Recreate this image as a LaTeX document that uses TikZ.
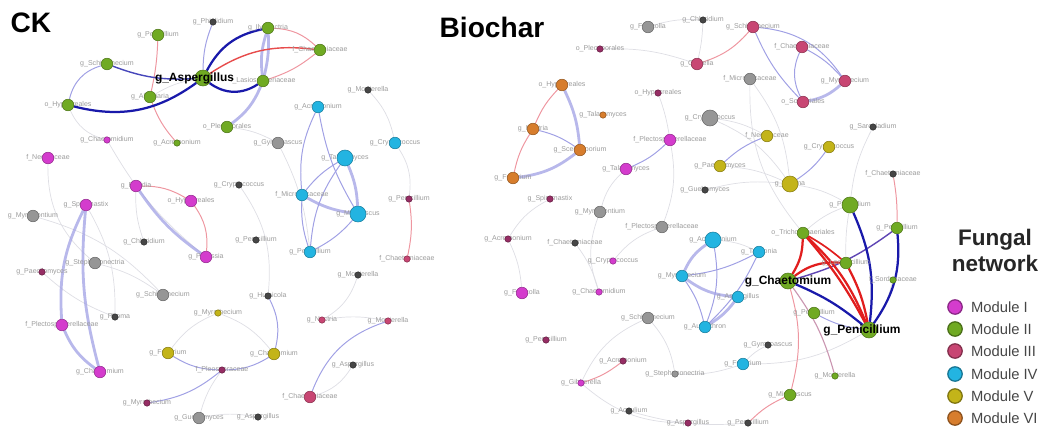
\documentclass[tikz,border=0pt]{standalone}
\usepackage{fontspec}
\setmainfont{Liberation Sans}
\usetikzlibrary{positioning}
\pgfdeclarelayer{background}
\pgfsetlayers{background,main}

\definecolor{modI}{RGB}{212,60,205}
\definecolor{modII}{RGB}{112,170,35}
\definecolor{modIII}{RGB}{200,70,115}
\definecolor{modIV}{RGB}{35,180,225}
\definecolor{modV}{RGB}{195,180,25}
\definecolor{modVI}{RGB}{215,125,45}
\definecolor{other}{RGB}{150,150,150}
\definecolor{darkdot}{RGB}{70,70,70}
\definecolor{wine}{RGB}{150,45,100}
\definecolor{edgeblue}{RGB}{160,160,228}
\definecolor{edgered}{RGB}{238,150,160}
\definecolor{edgegray}{RGB}{222,222,228}
\definecolor{strongblue}{RGB}{25,25,170}
\definecolor{strongred}{RGB}{225,30,30}
\definecolor{midpurple}{RGB}{95,70,180}
\definecolor{lblgray}{RGB}{155,155,155}
\definecolor{legtext}{RGB}{70,70,70}

\begin{document}
\begin{tikzpicture}[x=0.025cm,y=-0.025cm]

\useasboundingbox (0,0) rectangle (1043,434);

\tikzstyle{lbl}=[font=\fontsize{5}{6}\selectfont,text=lblgray,inner sep=0pt]
\tikzstyle{boldlbl}=[font=\fontsize{8.5}{10}\selectfont\bfseries,inner sep=0pt]
\tikzstyle{title}=[font=\fontsize{20}{24}\selectfont\bfseries,inner sep=0pt]
\tikzstyle{otudot}=[circle,inner sep=0pt,line width=0.4pt]
\tikzstyle{bigdot}=[minimum size=0.4cm]
\tikzstyle{middot}=[minimum size=0.29cm]
\tikzstyle{smalldot}=[minimum size=0.16cm]
\tikzstyle{posedge}=[edgeblue,line width=0.7pt]
\tikzstyle{posthick}=[edgeblue,line width=2pt,opacity=0.75]
\tikzstyle{negedge}=[edgered,line width=0.7pt]
\tikzstyle{faintedge}=[edgegray,line width=0.5pt]
\tikzstyle{posstrong}=[strongblue,line width=1.6pt]
\tikzstyle{negstrong}=[strongred,line width=1.6pt]
\tikzstyle{legdot}=[otudot,minimum size=0.36cm,line width=0.9pt]
\tikzstyle{legtxt}=[font=\fontsize{10.5}{12}\selectfont,text=legtext,inner sep=0pt]

\def\otu#1#2#3#4#5{\node[lbl] (#1l) at (#2) {#5};
  \node[otudot,#3,fill=#4,draw=#4!70!black] (#1) at (#2) {};}

%titles
\node[title] (cktitle) at (31,23) {CK};
\node[title] (bctitle) at (492,27) {Biochar};

%CK
\otu{ckphi}{213,22}{smalldot}{darkdot}{g\_Phialidium}
\otu{cklin}{268,28}{middot}{modII}{g\_Ilyonectria}
\otu{ckpen}{158,35}{middot}{modII}{g\_Penicillium}
\otu{ckchae}{320,50}{middot}{modII}{f\_Chaetomiaceae}
\otu{ckschi}{107,64}{middot}{modII}{g\_Schizothecium}
\otu{ckasp}{203,78}{bigdot}{modII}{}
\otu{cklas}{263,81}{middot}{modII}{f\_Lasiosphaeriaceae}
\otu{ckalt}{150,97}{middot}{modII}{g\_Alternaria}
\otu{ckhyp}{68,105}{middot}{modII}{o\_Hypocreales}
\otu{ckmor}{368,90}{smalldot}{darkdot}{g\_Mortierella}
\otu{ckacr}{318,107}{middot}{modIV}{g\_Acremonium}
\otu{ckple}{227,127}{middot}{modII}{o\_Pleosporales}
\otu{ckctd}{107,140}{smalldot}{modI}{g\_Chaetomidium}
\otu{ckacr2}{177,143}{smalldot}{modII}{g\_Acremonium}
\otu{ckgym}{278,143}{middot}{other}{g\_Gymnoascus}
\otu{ckcry}{395,143}{middot}{modIV}{g\_Cryptococcus}
\otu{cknec}{48,158}{middot}{modI}{f\_Nectriaceae}
\otu{cktal}{345,158}{bigdot}{modIV}{g\_Talaromyces}
\otu{ckfus}{136,186}{middot}{modI}{g\_Fusidia}
\otu{ckcry2}{239,185}{smalldot}{darkdot}{g\_Cryptococcus}
\otu{ckmic}{302,195}{middot}{modIV}{f\_Microascaceae}
\otu{ckpen2}{409,199}{smalldot}{wine}{g\_Penicillium}
\otu{ckhyp2}{191,201}{middot}{modI}{o\_Hypocreales}
\otu{ckspi}{86,205}{middot}{modI}{g\_Spiromastix}
\otu{ckmicr}{358,214}{bigdot}{modIV}{g\_Microascus}
\otu{ckmyr}{33,216}{middot}{other}{g\_Myriodontium}
\otu{ckpen3}{256,240}{smalldot}{darkdot}{g\_Penicillium}
\otu{ckchl}{144,242}{smalldot}{darkdot}{g\_Chloridium}
\otu{ckpen4}{310,252}{middot}{modIV}{g\_Penicillium}
\otu{ckpre}{206,257}{middot}{modI}{g\_Preussia}
\otu{ckchae2}{407,259}{smalldot}{modIII}{f\_Chaetomiaceae}
\otu{ckste}{95,263}{middot}{other}{g\_Stephanonectria}
\otu{ckpae}{42,272}{smalldot}{wine}{g\_Paecilomyces}
\otu{ckmor2}{358,275}{smalldot}{darkdot}{g\_Mortierella}
\otu{cksch2}{163,295}{middot}{other}{g\_Schizothecium}
\otu{ckhum}{268,296}{smalldot}{darkdot}{g\_Humicola}
\otu{ckmyr2}{218,313}{smalldot}{modV}{g\_Myrothecium}
\otu{ckpho}{115,317}{smalldot}{darkdot}{g\_Phoma}
\otu{ckplec}{62,325}{middot}{modI}{f\_Plectosphaerellaceae}
\otu{cknect}{322,320}{smalldot}{modIII}{g\_Nectria}
\otu{ckmor3}{388,321}{smalldot}{modIII}{g\_Mortierella}
\otu{ckfusa}{168,353}{middot}{modV}{g\_Fusarium}
\otu{ckcha}{274,354}{middot}{modV}{g\_Chaetomium}
\otu{ckasp2}{353,365}{smalldot}{darkdot}{g\_Aspergillus}
\otu{ckpleo}{222,370}{smalldot}{wine}{f\_Pleosporaceae}
\otu{ckcham}{100,372}{middot}{modI}{g\_Chaetomium}
\otu{ckchae3}{310,397}{middot}{modIII}{f\_Chaetomiaceae}
\otu{ckmyr3}{147,403}{smalldot}{wine}{g\_Myrothecium}
\otu{ckgue}{199,418}{middot}{other}{g\_Guehomyces}
\otu{ckasp3}{258,417}{smalldot}{darkdot}{g\_Aspergillus}
\node[boldlbl] (ckaspl) at ([xshift=-6]ckasp) {g\_Aspergillus};

%Biochar
\otu{bfusi}{648,27}{middot}{other}{g\_Fusicolla}
\otu{bchl}{703,20}{smalldot}{darkdot}{g\_Chloridium}
\otu{bschi}{753,27}{middot}{modIII}{g\_Schizothecium}
\otu{bple}{600,49}{smalldot}{wine}{o\_Pleosporales}
\otu{bchae}{802,47}{middot}{modIII}{f\_Chaetomiaceae}
\otu{bcon}{697,64}{middot}{modIII}{g\_Coniella}
\otu{bmic}{750,79}{middot}{other}{f\_Microascaceae}
\otu{bmyr}{845,81}{middot}{modIII}{g\_Myrothecium}
\otu{bsor}{803,102}{middot}{modIII}{o\_Sordariales}
\otu{bhyp}{562,85}{middot}{modVI}{o\_Hypocreales}
\otu{bhyp2}{658,93}{smalldot}{wine}{o\_Hypocreales}
\otu{btal}{603,115}{smalldot}{modVI}{g\_Talaromyces}
\otu{bcry}{710,118}{bigdot}{other}{g\_Cryptococcus}
\otu{bnec}{533,129}{middot}{modVI}{g\_Nectria}
\otu{bplec}{670,140}{middot}{modI}{f\_Plectosphaerellaceae}
\otu{bnecf}{767,136}{middot}{modV}{f\_Nectriaceae}
\otu{bsar}{873,127}{smalldot}{darkdot}{g\_Sarocladium}
\otu{bcry2}{829,147}{middot}{modV}{g\_Cryptococcus}
\otu{bsce}{580,150}{middot}{modVI}{g\_Scedosporium}
\otu{bfus}{513,178}{middot}{modVI}{g\_Fusarium}
\otu{btal2}{626,169}{middot}{modI}{g\_Talaromyces}
\otu{bpae}{720,166}{middot}{modV}{g\_Paecilomyces}
\otu{bchae2}{893,174}{smalldot}{darkdot}{f\_Chaetomiaceae}
\otu{bpho}{790,184}{bigdot}{modV}{g\_Phoma}
\otu{bgue}{705,190}{smalldot}{darkdot}{g\_Guehomyces}
\otu{bspi}{550,199}{smalldot}{wine}{g\_Spiromastix}
\otu{bpen}{850,205}{bigdot}{modII}{g\_Penicillium}
\otu{bmyrd}{600,212}{middot}{other}{g\_Myriodontium}
\otu{bplec2}{662,227}{middot}{other}{f\_Plectosphaerellaceae}
\otu{bpen2}{897,228}{middot}{modII}{g\_Penicillium}
\otu{btri}{803,233}{middot}{modII}{o\_Trichosphaeriales}
\otu{bacr}{508,239}{smalldot}{wine}{g\_Acremonium}
\otu{bchae3}{575,243}{smalldot}{darkdot}{f\_Chaetomiaceae}
\otu{bacrc}{713,240}{bigdot}{modIV}{g\_Acremonium}
\otu{btau}{759,252}{middot}{modIV}{g\_Tausonia}
\otu{bcrym}{613,261}{smalldot}{modI}{g\_Cryptococcus}
\otu{blec}{846,263}{middot}{modII}{g\_Lecanicillium}
\otu{bmyrc}{682,276}{middot}{modIV}{g\_Myrothecium}
\otu{bcha}{788,281}{bigdot}{modII}{}
\otu{bsord}{893,280}{smalldot}{modII}{f\_Sordariaceae}
\otu{bfusc}{522,293}{middot}{modI}{g\_Fusicolla}
\otu{bctd}{599,292}{smalldot}{modI}{g\_Chaetomidium}
\otu{baspc}{738,297}{middot}{modIV}{g\_Aspergillus}
\otu{bpen3}{814,313}{middot}{modII}{g\_Penicillium}
\otu{bschg}{648,318}{middot}{other}{g\_Schizothecium}
\otu{baux}{705,327}{middot}{modIV}{g\_Auxarthron}
\otu{bpenb}{869,330}{bigdot}{modII}{}
\otu{bpenm}{546,340}{smalldot}{wine}{g\_Penicillium}
\otu{bgym}{768,345}{smalldot}{darkdot}{g\_Gymnoascus}
\otu{bacrm}{623,361}{smalldot}{wine}{g\_Acremonium}
\otu{bfuscy}{743,364}{middot}{modIV}{g\_Fusarium}
\otu{bste}{675,374}{smalldot}{other}{g\_Stephanonectria}
\otu{bmor}{835,376}{smalldot}{modII}{g\_Mortierella}
\otu{bgib}{581,383}{smalldot}{modI}{g\_Gibberella}
\otu{bmicg}{790,395}{middot}{modII}{g\_Microascus}
\otu{bacau}{629,411}{smalldot}{darkdot}{g\_Acaulium}
\otu{baspm}{688,423}{smalldot}{wine}{g\_Aspergillus}
\otu{bpend}{748,423}{smalldot}{darkdot}{g\_Penicillium}
\node[boldlbl] (bchal) at (bcha) {g\_Chaetomium};
\node[boldlbl] (bpenbl) at ([xshift=-5]bpenb) {g\_Penicillium};

%legend
\node[font=\fontsize{16}{18.5}\selectfont\bfseries,align=center,text=black!85] (legend) at (995,250) {Fungal\\network};
\node[legdot,fill=modI,draw=modI!65!black] (leg1) at (955,307) {};
\node[legdot,fill=modII,draw=modII!65!black] (leg2) at (955,329) {};
\node[legdot,fill=modIII,draw=modIII!65!black] (leg3) at (955,351) {};
\node[legdot,fill=modIV,draw=modIV!65!black] (leg4) at (955,374) {};
\node[legdot,fill=modV,draw=modV!65!black] (leg5) at (955,396) {};
\node[legdot,fill=modVI,draw=modVI!65!black] (leg6) at (955,418) {};
\node[legtxt,right=0.2cm of leg1] (leg1t) {Module I};
\node[legtxt,right=0.2cm of leg2] (leg2t) {Module II};
\node[legtxt,right=0.2cm of leg3] (leg3t) {Module III};
\node[legtxt,right=0.2cm of leg4] (leg4t) {Module IV};
\node[legtxt,right=0.2cm of leg5] (leg5t) {Module V};
\node[legtxt,right=0.2cm of leg6] (leg6t) {Module VI};

%connections
\begin{pgfonlayer}{background}
% CK, faint
\draw[faintedge] (cknec) to[bend right=25] (ckste);
\draw[faintedge] (ckctd) to[bend right=10] (ckpre);
\draw[faintedge] (ckmyr) to[bend left=15] (cksch2);
\draw[faintedge] (ckste) to[bend left=10] (cksch2);
\draw[faintedge] (ckpae) to[bend right=10] (ckpho);
\draw[faintedge] (ckgym) to[bend left=10] (ckpen4);
\draw[faintedge] (ckcry2) to[bend left=20] (ckhum);
\draw[faintedge] (ckple) to[bend left=10] (ckgym);
\draw[faintedge] (ckmor) to[bend left=15] (ckcry);
\draw[faintedge] (ckcry) to[bend left=20] (ckpen2);
\draw[faintedge] (ckmor2) to[bend left=20] (cknect);
\draw[faintedge] (cknect) to[bend left=10] (ckmor3);
\draw[faintedge] (ckasp2) to[bend left=20] (ckchae3);
\draw[faintedge] (ckfusa) to[bend left=15] (ckmyr2);
\draw[faintedge] (ckmyr2) to[bend left=15] (ckcha);
\draw[faintedge] (ckpleo) to[bend right=10] (ckgue);
\draw[faintedge] (ckgue) to[bend left=10] (ckasp3);
\draw[faintedge] (ckspi) to[bend left=15] (ckpho);
\draw[faintedge] (ckchl) to[bend left=10] (ckfus);
\draw[faintedge] (ckalt) to[bend left=10] (ckasp);
\draw[faintedge] (ckhyp) to[bend right=25] (ckctd);
% CK, module links
\draw[posedge] (ckphi) to[bend right=10] (ckasp);
\draw[posedge] (ckschi) to[bend right=30] (ckhyp);
\draw[negedge] (ckpen) to[bend left=5] (ckalt);
\draw[negedge] (ckalt) to[bend right=10] (ckacr2);
\draw[negedge] (cklin) to[bend left=20] (ckchae);
\draw[negedge] (ckchae) to[bend left=10] (cklas);
\draw[posthick] (cklin) to[bend right=12] (cklas);
\draw[posthick] (cklin) to[bend left=8] (cklas);
\draw[posthick] (cklas) to[bend left=15] (ckple);
\draw[posedge] (ckacr) to[bend right=15] (ckmic);
\draw[posedge] (ckacr) to[bend right=10] (ckmicr);
\draw[posedge] (cktal) to[bend right=10] (ckmic);
\draw[posthick] (cktal) to[bend left=10] (ckmicr);
\draw[posedge] (cktal) to[bend right=15] (ckpen4);
\draw[posthick] (ckmic) to[bend right=10] (ckmicr);
\draw[posedge] (ckmic) to[bend right=10] (ckpen4);
\draw[posedge] (ckmicr) to[bend left=10] (ckpen4);
\draw[negedge] (ckpen2) to[bend left=10] (ckchae2);
\draw[posthick] (ckfus) to[bend right=10] (ckpre);
\draw[negedge] (ckhyp2) to[bend left=20] (ckpre);
\draw[negedge] (ckfus) to[bend left=15] (ckhyp2);
\draw[posthick] (ckspi) to[bend right=15] (ckplec);
\draw[posthick] (ckspi) to[bend right=10] (ckcham);
\draw[posthick] (ckplec) to[bend right=15] (ckcham);
\draw[posedge] (ckfusa) to[bend right=15] (ckpleo);
\draw[posedge] (ckcha) to[bend left=15] (ckpleo);
\draw[posedge] (ckhum) to[bend left=20] (ckcha);
\draw[posedge] (ckpleo) to[bend left=15] (ckmyr3);
\draw[posedge] (ckmor3) to[bend right=25] (ckchae3);
% CK, strong
\draw[posstrong] (ckasp) to[bend left=25] (ckhyp);
\draw[posstrong] (ckasp) to[bend left=25] (cklin);
\draw[posstrong] (ckasp) to[bend right=35] (cklas);
\draw[strongblue!80,line width=1pt] (ckasp) to[bend left=12] (ckschi);
\draw[strongred!80,line width=1pt] (ckasp) to[bend left=20] (ckchae);

% Biochar, faint
\draw[faintedge] (bfusi) to[bend left=10] (bchl);
\draw[faintedge] (bchl) to[bend left=5] (bcon);
\draw[faintedge] (bple) to[bend left=10] (bcon);
\draw[faintedge] (bmic) to[bend left=15] (bpho);
\draw[faintedge] (bmic) to[bend right=20] (btri);
\draw[faintedge] (bhyp2) to[bend left=5] (bplec);
\draw[faintedge] (bcry) to[bend left=10] (bnecf);
\draw[faintedge] (bcry) to[bend left=15] (bpho);
\draw[faintedge] (bsar) to[bend right=10] (bpen);
\draw[faintedge] (bpae) to[bend left=10] (bpho);
\draw[faintedge] (bpho) to[bend left=10] (bpen);
\draw[faintedge] (bgue) to[bend left=10] (bpho);
\draw[faintedge] (btal2) to[bend right=15] (bmyrd);
\draw[faintedge] (bmyrd) to[bend right=20] (bctd);
\draw[faintedge] (bplec2) to[bend right=15] (bcrym);
\draw[faintedge] (bplec) to[bend left=15] (bplec2);
\draw[faintedge] (bacr) to[bend left=10] (bfusc);
\draw[faintedge] (bspi) to[bend right=15] (bacr);
\draw[faintedge] (bchae3) to[bend left=10] (bctd);
\draw[faintedge] (bschg) to[bend right=20] (bgib);
\draw[faintedge] (bschg) to[bend left=15] (bste);
\draw[faintedge] (bgib) to[bend right=20] (baspm);
\draw[faintedge] (bacau) to[bend right=10] (bpend);
\draw[faintedge] (bgym) to[bend right=10] (bfuscy);
\draw[faintedge] (bste) to[bend right=10] (bfuscy);
\draw[faintedge] (bfuscy) to[bend right=15] (bpenb);
\draw[faintedge] (bacrc) to[bend left=10] (btau);
\draw[faintedge] (blec) to[bend left=5] (bpen);
\draw[faintedge] (btri) to[bend left=10] (bpen);
\draw[faintedge] (bsord) to[bend left=10] (bpenb);
% Biochar, module links
\draw[posedge] (bschi) to[bend left=25] (bmyr);
\draw[posedge] (bschi) to[bend right=10] (bsor);
\draw[posedge] (bchae) to[bend right=25] (bsor);
\draw[posedge] (bchae) to[bend left=10] (bmyr);
\draw[posthick] (bsor) to[bend right=15] (bmyr);
\draw[negedge] (bschi) to[bend left=15] (bcon);
\draw[posthick] (bhyp) to[bend left=10] (bsce);
\draw[negedge] (bhyp) to[bend right=10] (bnec);
\draw[posedge] (bnec) to[bend left=10] (bsce);
\draw[posthick] (bsce) to[bend left=15] (bfus);
\draw[negedge] (bnec) to[bend right=10] (bfus);
\draw[posedge] (bplec) to[bend left=10] (btal2);
\draw[posedge] (bnecf) to[bend right=10] (bpae);
\draw[posedge] (bcry2) to[bend left=10] (bpho);
\draw[posthick] (bacrc) to[bend right=15] (bmyrc);
\draw[posthick] (bmyrc) to[bend right=15] (baspc);
\draw[posthick] (baspc) to[bend left=10] (baux);
\draw[posedge] (bacrc) to[bend left=15] (baux);
\draw[posedge] (bmyrc) to[bend right=10] (btau);
\draw[posedge] (btau) to[bend left=10] (baux);
\draw[posedge] (bmyrc) to[bend left=10] (baux);
\draw[negedge] (bgib) to[bend right=10] (bacrm);
\draw[negedge] (bchae2) to[bend left=5] (bpen2);
\draw[posedge] (bpenb) to[bend left=10] (bpen3);
\draw[negedge] (bcha) to[bend left=15] (bmicg);
\draw[negedge] (bmicg) to[bend right=10] (bpend);
\draw[wine!50,line width=0.8pt] (bcha) to[bend left=10] (bmor);
% Biochar, strong
\draw[midpurple,line width=1pt] (bpen2) to[bend left=10] (bcha);
\draw[negstrong] (bcha) to[bend right=15] (btri);
\draw[negstrong] (bcha) to[bend left=20] (blec);
\draw[strongred,line width=1.2pt] (btri) to[bend left=5] (blec);
\draw[negstrong] (btri) to[bend left=12] (bpenb);
\draw[negstrong] (btri) to[bend left=6] (bpenb);
\draw[negstrong] (blec) to[bend left=8] (bpenb);
\draw[posstrong] (bcha) to[bend left=8] (bpenb);
\draw[posstrong] (bpen) to[bend left=15] (bpenb);
\draw[posstrong] (bpen2) to[bend left=20] (bpenb);
\end{pgfonlayer}

\end{tikzpicture}
\end{document}
